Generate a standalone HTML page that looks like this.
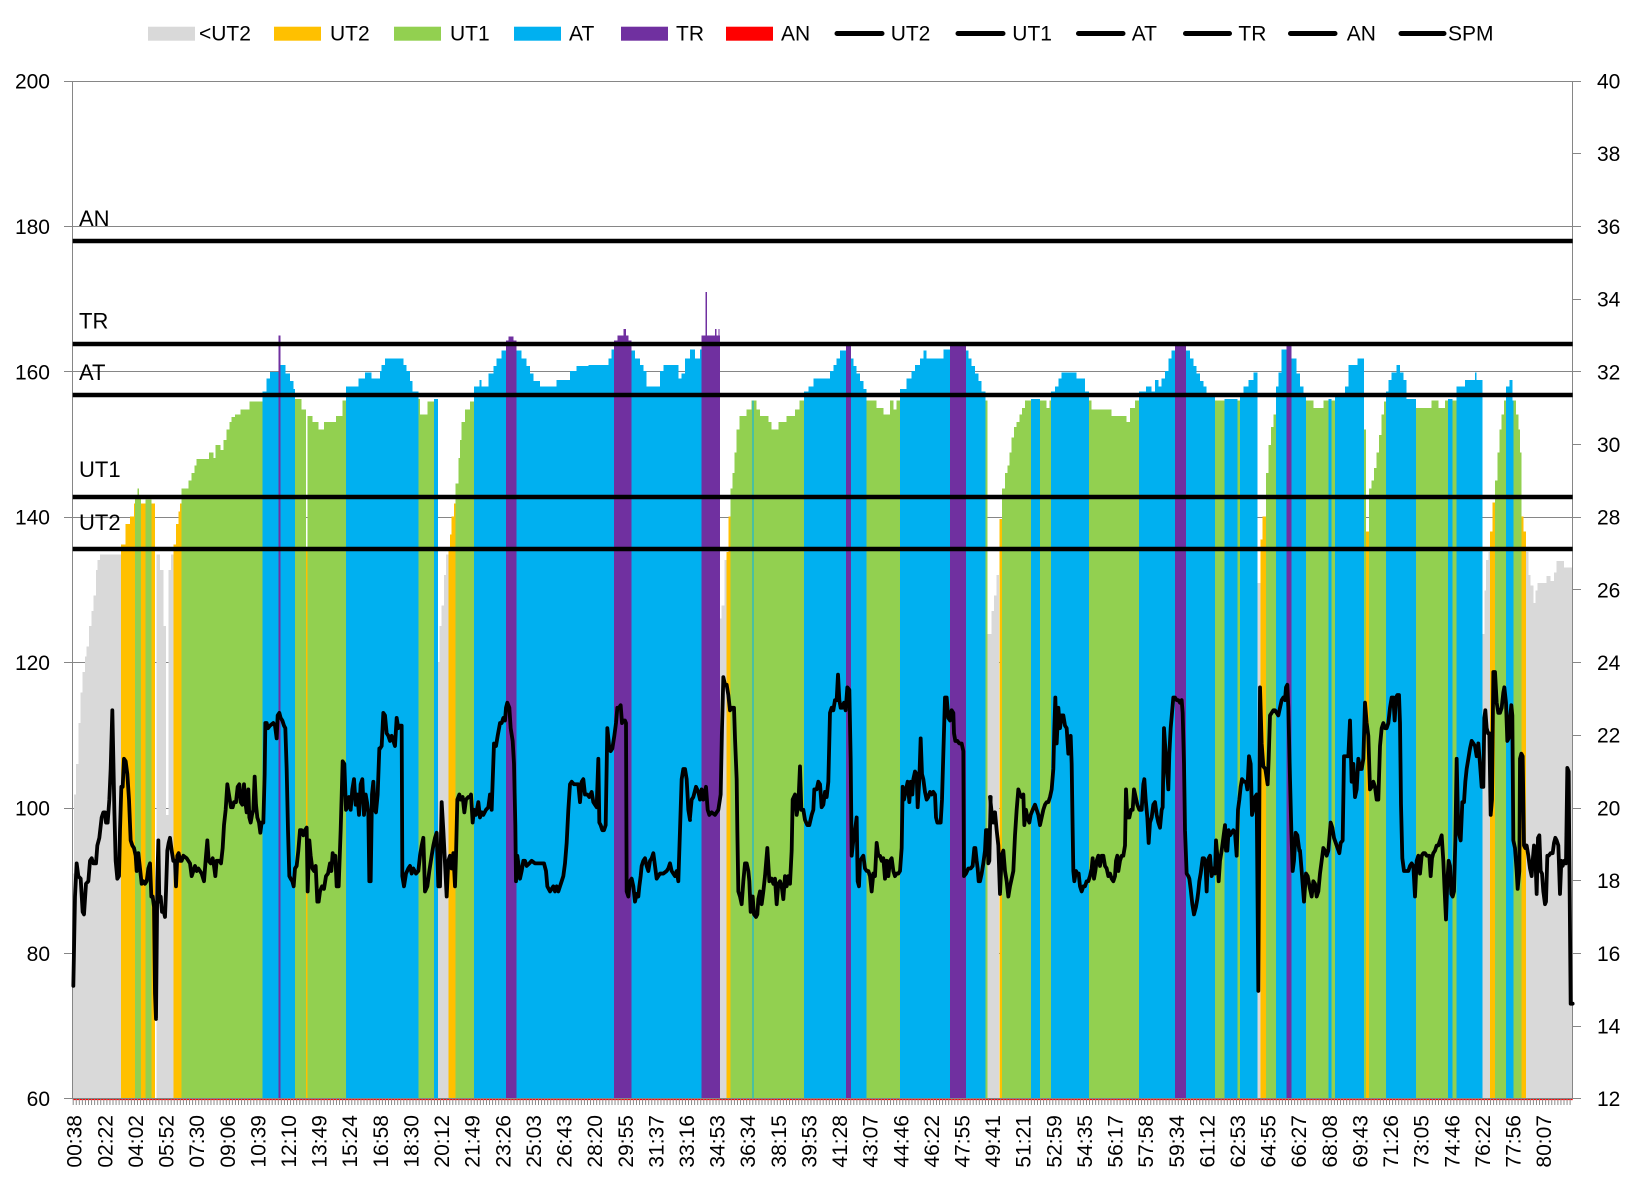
<!DOCTYPE html>
<html><head><meta charset="utf-8"><title>HR zones chart</title>
<style>
html,body{margin:0;padding:0;background:#fff;}
svg{display:block;}
text{font-family:"Liberation Sans",Arial,sans-serif;fill:#000;}
</style></head>
<body>
<svg xmlns="http://www.w3.org/2000/svg" width="1636" height="1180" viewBox="0 0 1636 1180">
<rect x="0" y="0" width="1636" height="1180" fill="#fff"/>
<!-- gridlines -->
<g stroke="#868686" stroke-width="1" fill="none" shape-rendering="crispEdges">
<path d="M72.7 81.5H1572.7M72.7 226.5H1572.7M72.7 371.5H1572.7M72.7 517.5H1572.7M72.7 662.5H1572.7M72.7 808.5H1572.7M72.7 953.5H1572.7"/>
</g>
<!-- bars (zone areas) -->
<g shape-rendering="crispEdges">
<g transform="translate(60 320) scale(0.333333 0.510204)">
<path fill="#D9D9D9" d="M37 1526V1085H42V930H48V870H55V790H62V730H68V690H75V660H80V640H87V600H95V570H100V540H108V490H112V470H120V460H183V1526Z M290 1526V460H300V490H310V600H318V970H325V490H333V460H340V1526Z"/>
<path fill="#FFC000" d="M183 1526V440H197V400H210V385H222V360H225V1526Z M243 1526V360H257V1526Z M275 1526V360H285V1526Z M340 1526V440H348V400H355V375H360V360H365V1526Z M738 1526V450H743V1526Z"/>
<path fill="#92D050" d="M225 1526V345H232V330H237V345H243V1526Z M257 1526V352H275V1526Z M365 1526V330H385V315H395V300H403V285H410V272H447V260H460V270H467V245H482V255H490V235H500V215H508V200H515V190H525V185H542V175H568V160H608V1526Z M705 1526V155H725V175H738V1526Z M743 1526V188H757V200H775V215H792V200H828V188H848V158H858V1526Z"/>
<path fill="#00B0F0" d="M608 1526V140H620V115H630V102H655V100H662V88H676V105H690V120H700V135H705V1526Z M858 1526V130H895V115H915V103H935V115H960V1526Z"/>
<path fill="#7030A0" d="M656 1526V30H662V1526Z"/>
</g>
<g transform="translate(370 320) scale(0.333333 0.510204)">
<path fill="#00B0F0" d="M30 1526V100H35V88H45V75H100V88H110V100H120V120H127V140H145V1526Z M192 1526V155H204V1526Z M312 1526V130H328V118H335V130H355V105H370V90H380V75H395V60H408V1526Z M440 1526V60H455V75H470V90H480V105H490V120H510V130H560V118H600V100H620V90H655V88H715V75H725V58H732V1526Z M785 1526V60H795V75H810V88H820V100H830V130H870V100H880V88H925V115H935V105H945V75H960V1526Z"/>
<path fill="#92D050" d="M145 1526V155H150V185H172V160H192V1526Z M257 1526V320H265V270H270V235H275V200H285V175H300V160H312V1526Z"/>
<path fill="#D9D9D9" d="M204 1526V670H208V600H215V560H222V500H228V460H235V1526Z"/>
<path fill="#FFC000" d="M235 1526V445H240V420H245V385H252V360H257V1526Z"/>
<path fill="#7030A0" d="M408 1526V40H415V32H430V40H440V1526Z M732 1526V40H742V30H760V18H768V30H775V40H785V1526Z"/>
</g>
<g transform="translate(680 320) scale(0.333333 0.510204)">
<path fill="#00B0F0" d="M30 1526V58H45V75H60V58H65V1526Z M372 1526V140H385V130H400V115H450V100H460V88H470V75H480V60H498V1526Z M513 1526V75H520V90H530V105H540V120H550V135H560V1526Z M660 1526V135H680V115H695V100H705V88H720V75H730V60H740V75H790V58H810V1526Z M858 1526V60H865V75H875V90H885V105H895V120H905V140H917V1526Z"/>
<path fill="#7030A0" d="M65 1526V30H77V-55H81V30H105V18H110V30H115V18H118V30H120V1526Z M498 1526V47H513V1526Z M810 1526V47H858V1526Z"/>
<path fill="#D9D9D9" d="M120 1526V585H125V560H133V470H140V1526Z M923 1526V615H935V570H942V540H950V500H957V1526Z"/>
<path fill="#FFC000" d="M140 1526V455H146V385H152V1526Z"/>
<path fill="#92D050" d="M152 1526V330H158V300H163V260H170V215H178V188H200V175H215V158H230V175H240V188H265V200H275V215H295V200H320V188H345V175H358V158H372V1526Z M560 1526V158H590V172H610V185H630V158H640V175H650V158H660V1526Z M917 1526V158H923V1526Z"/>
<path fill="#00B0F0" d="M217 1526V158H221V1526Z"/>
</g>
<g transform="translate(990 320) scale(0.333333 0.510204)">
<path fill="#FFC000" d="M28 1526V390H36V1526Z M812 1526V430H818V385H828V1526Z"/>
<path fill="#92D050" d="M36 1526V330H45V300H52V285H58V260H65V230H72V210H80V200H88V185H96V172H105V158H123V1526Z M150 1526V158H170V172H178V158H183V1526Z M297 1526V158H305V175H365V188H410V200H420V172H435V158H447V1526Z M675 1526V158H703V1526Z M742 1526V158H750V1526Z M828 1526V300H835V245H843V210H850V185H858V1526Z M948 1526V158H960V1526Z"/>
<path fill="#00B0F0" d="M123 1526V155H150V1526Z M183 1526V140H195V130H205V115H215V103H260V115H285V140H297V1526Z M447 1526V140H468V130H485V140H495V118H505V130H515V115H525V100H535V75H545V60H555V1526Z M588 1526V60H600V75H610V90H620V105H630V120H640V130H650V150H675V1526Z M703 1526V155H742V1526Z M750 1526V150H760V130H775V118H790V103H803V1526Z M858 1526V130H865V103H875V58H890V1526Z M905 1526V75H920V105H930V130H940V150H948V1526Z"/>
<path fill="#7030A0" d="M555 1526V47H588V1526Z M890 1526V47H905V1526Z"/>
<path fill="#D9D9D9" d="M803 1526V515H812V1526Z"/>
</g>
<g transform="translate(1300 320) scale(0.333333 0.510204)">
<path fill="#92D050" d="M30 1526V158H40V172H70V158H85V1526Z M95 1526V158H105V1526Z M192 1526V215H198V1526Z M207 1526V330H215V315H222V290H230V260H237V225H245V185H252V160H258V1526Z M348 1526V172H395V158H415V172H435V158H444V1526Z M457 1526V158H470V1526Z M585 1526V315H592V260H598V215H605V185H612V158H618V1526Z M640 1526V158H648V185H655V215H660V260H665V1526Z"/>
<path fill="#00B0F0" d="M85 1526V155H95V1526Z M105 1526V150H135V130H145V88H172V75H192V1526Z M258 1526V140H265V118H275V103H290V88H300V103H310V118H320V155H348V1526Z M444 1526V155H457V1526Z M470 1526V130H495V118H525V103H530V118H548V1526Z M618 1526V130H628V118H637V158H640V1526Z"/>
<path fill="#FFC000" d="M198 1526V415H207V1526Z M570 1526V415H578V358H585V1526Z M665 1526V385H670V415H678V1526Z"/>
<path fill="#D9D9D9" d="M548 1526V615H553V530H558V470H565V455H570V1526Z M678 1526V455H685V500H692V520H700V555H706V530H712V515H740V502H752V512H762V495H770V472H792V485H818V1526Z"/>
</g>
</g>
<!-- red AN baseline & category ticks -->
<path d="M72.7 1099.5H1572.7" stroke="#FF0000" stroke-width="1.2" fill="none"/>
<path d="M72.7 1102H1572.7" stroke="#8A8A8A" stroke-width="6" stroke-dasharray="1 2.0612" fill="none"/>
<!-- axes -->
<g stroke="#868686" stroke-width="1" fill="none" shape-rendering="crispEdges">
<path d="M72.5 81V1099M1572.5 81V1099M64 1098.5H1581"/>
<path d="M64 81.5H72.5M64 226.5H72.5M64 371.5H72.5M64 517.5H72.5M64 662.5H72.5M64 808.5H72.5M64 953.5H72.5M64 1098.5H72.5"/>
<path d="M1572.5 81.5H1581M1572.5 153.5H1581M1572.5 226.5H1581M1572.5 299.5H1581M1572.5 371.5H1581M1572.5 444.5H1581M1572.5 517.5H1581M1572.5 589.5H1581M1572.5 662.5H1581M1572.5 735.5H1581M1572.5 808.5H1581M1572.5 880.5H1581M1572.5 953.5H1581M1572.5 1026.5H1581M1572.5 1098.5H1581"/>
</g>
<!-- threshold lines -->
<g stroke="#000" stroke-width="4.5" fill="none">
<path d="M72.7 241H1572.7M72.7 344H1572.7M72.7 395H1572.7M72.7 497H1572.7M72.7 549H1572.7"/>
</g>
<!-- SPM line -->
<g fill="none" stroke="#000" stroke-width="3.8" stroke-linejoin="round" stroke-linecap="round">
<polyline vector-effect="non-scaling-stroke" transform="translate(60 320) scale(0.333333 0.510204)" points="40,1305 45,1130 50,1065 55,1090 62,1095 68,1160 72,1165 78,1105 85,1100 90,1060 95,1055 100,1065 108,1065 112,1030 118,1015 125,975 130,965 135,965 138,985 143,985 148,940 152,880 157,765 160,860 163,960 167,1060 172,1095 177,1090 180,1000 184,915 188,915 192,860 197,865 202,890 207,940 212,1020 217,1030 222,1035 227,1050 230,1080 235,1045 240,1075 245,1105 250,1100 255,1105 260,1100 265,1075 270,1065 274,1130 278,1130 282,1150 285,1320 288,1370 292,1100 295,1020 298,1140 302,1130 306,1160 310,1155 315,1170 318,1120 322,1040 326,1025 330,1015 335,1040 340,1060 345,1060 348,1110 352,1050 356,1045 360,1060 365,1060 370,1050 380,1055 390,1065 395,1090 400,1080 405,1070 410,1080 415,1075 425,1085 432,1100 438,1050 442,1020 446,1060 452,1065 458,1055 462,1070 466,1090 470,1060 478,1060 483,1065 488,1035 492,990 497,960 502,910 508,935 513,955 518,955 522,945 528,945 533,915 538,910 542,945 547,950 552,910 556,945 560,965 565,920 568,975 572,985 576,970 580,960 584,895 588,950 592,975 597,985 601,1005 605,985 610,985 614,890 616,790 620,790 624,800 630,795 640,790 645,795 650,820 653,775 658,770 662,780 667,785 672,795 676,800 680,880 684,1000 688,1090 692,1095 697,1100 701,1110 705,1075 710,1070 715,1040 720,1000 725,1000 730,1010 735,1000 740,995 743,1120 748,1020 752,1050 757,1075 762,1080 767,1070 772,1140 776,1140 780,1120 786,1110 792,1115 798,1090 804,1085 810,1065 814,1080 818,1045 822,1060 826,1050 830,1110 836,1110 842,1000 848,865 853,870 858,960 862,955 867,935 872,960 877,920 882,900 887,950 892,930 897,970 902,910 907,900 912,970 917,930 921,945 925,965 928,1100 932,1100 936,930 940,905 944,960 948,965 953,930 958,840"/>
<polyline vector-effect="non-scaling-stroke" transform="translate(370 320) scale(0.333333 0.510204)" points="30,840 35,835 40,770 45,775 50,810 55,815 60,825 65,815 70,825 75,835 80,780 85,800 90,795 95,795 97,1090 102,1110 108,1085 115,1075 120,1070 125,1085 130,1075 138,1085 145,1080 150,1050 155,1030 160,1015 165,1120 172,1110 178,1080 185,1050 190,1030 195,1015 200,1005 205,1110 210,1110 215,945 220,1000 225,1065 230,1130 235,1060 240,1050 245,1075 250,1045 255,1110 258,1050 262,940 268,930 272,940 278,935 283,965 288,940 295,935 300,935 303,930 308,985 312,960 318,970 325,945 330,975 335,965 340,970 348,960 355,955 360,930 365,960 372,830 378,835 383,815 390,790 395,790 400,780 405,785 408,760 412,750 418,760 422,800 428,825 432,870 436,990 438,1100 442,1050 446,1070 450,1095 455,1080 460,1060 465,1060 470,1070 478,1065 485,1060 495,1065 505,1065 515,1065 522,1065 528,1080 532,1110 540,1120 545,1115 550,1110 555,1120 560,1110 565,1120 570,1110 575,1100 580,1090 585,1065 590,1025 595,960 600,910 605,905 612,910 618,910 625,910 630,945 635,905 640,900 645,930 652,930 658,935 665,925 670,945 675,950 680,955 685,860 688,985 692,990 697,1000 702,1000 707,990 712,800 718,840 722,845 727,840 733,815 738,790 742,760 747,760 752,755 756,790 760,785 765,785 768,790 770,1120 775,1130 780,1100 785,1095 790,1110 795,1140 800,1125 805,1130 808,1110 812,1090 815,1070 820,1060 825,1055 830,1070 835,1080 840,1060 845,1055 850,1045 855,1070 860,1095 865,1090 870,1085 880,1085 890,1080 895,1075 900,1065 905,1080 910,1085 915,1090 920,1080 925,1100 930,1000 935,900 940,880 945,880 950,900 955,960 960,980"/>
<polyline vector-effect="non-scaling-stroke" transform="translate(680 320) scale(0.333333 0.510204)" points="30,975 35,940 40,935 48,915 55,925 60,940 65,920 70,940 78,915 83,960 88,970 95,965 105,970 115,960 122,930 126,800 130,700 135,715 140,715 145,735 150,765 155,760 162,760 165,820 170,900 172,1000 175,1120 180,1130 185,1145 190,1100 195,1065 200,1065 205,1080 208,1100 212,1160 218,1130 222,1165 228,1170 232,1165 235,1135 240,1120 245,1145 250,1120 255,1090 262,1035 268,1100 275,1095 280,1105 285,1095 290,1145 295,1105 300,1100 305,1110 310,1135 315,1090 320,1110 325,1090 330,1105 335,1040 338,940 345,930 350,970 355,950 360,875 364,960 370,960 375,980 382,990 388,990 395,970 400,960 403,920 410,920 415,905 420,910 425,955 430,950 435,925 440,935 445,905 450,770 455,760 460,765 465,745 470,745 474,695 478,745 482,760 487,760 492,750 497,765 502,720 508,725 512,860 515,1050 520,1020 525,1000 530,975 533,1100 537,1110 540,1060 545,1055 550,1050 555,1075 560,1080 565,1080 570,1090 575,1120 580,1085 585,1090 590,1025 595,1050 600,1050 605,1060 610,1055 615,1095 620,1060 625,1090 630,1060 635,1055 640,1080 645,1090 650,1085 655,1085 660,1080 665,1035 668,915 672,940 678,920 683,905 688,945 692,905 697,930 700,900 705,885 710,890 713,955 718,900 722,820 726,890 730,900 735,925 740,940 745,935 750,925 755,930 760,925 765,930 768,975 772,985 778,985 782,985 786,940 790,850 795,740 800,740 805,780 810,785 815,765 820,770 822,810 826,825 832,825 838,830 845,830 850,845 852,1090 858,1085 865,1075 872,1075 878,1070 883,1035 886,1035 890,1060 893,1075 896,1100 900,1100 905,1085 910,1065 915,1040 918,1000 922,1000 925,1065 928,1060 932,935"/>
<polyline vector-effect="non-scaling-stroke" transform="translate(990 320) scale(0.333333 0.510204)" points="0,935 5,965 10,985 15,965 20,1000 25,1030 30,1125 35,1050 40,1040 45,1080 50,1100 55,1130 60,1110 65,1095 70,1080 75,1010 80,960 85,920 90,930 95,935 100,930 103,990 108,960 112,975 118,985 122,970 128,960 135,950 140,960 145,970 150,990 155,975 160,960 165,950 170,945 175,945 180,935 185,920 190,880 193,800 196,740 200,830 205,760 210,800 215,775 220,775 225,795 230,800 235,850 238,820 242,815 245,870 248,1000 250,1080 253,1100 258,1080 262,1085 266,1085 270,1110 275,1120 280,1110 285,1110 290,1100 295,1100 300,1090 305,1075 308,1055 312,1095 316,1080 320,1060 325,1050 330,1070 335,1050 340,1050 345,1070 350,1075 355,1090 360,1085 365,1095 370,1100 375,1090 378,1060 382,1050 385,1080 390,1060 395,1050 400,1050 405,1030 408,920 412,975 418,975 423,960 428,960 432,920 437,935 442,950 448,960 455,960 460,910 463,900 467,940 472,975 476,1025 480,985 485,975 490,950 495,945 500,970 505,985 510,995 515,960 518,955 522,800 525,830 530,880 533,900 535,920 538,850 542,800 546,770 550,740 555,740 560,745 565,745 570,750 575,745 578,770 582,870 585,1000 590,1085 595,1090 598,1095 602,1115 607,1145 612,1165 618,1150 622,1135 625,1120 628,1100 632,1085 635,1070 638,1055 642,1055 646,1060 650,1120 652,1085 656,1055 660,1050 665,1090 670,1075 675,1085 678,1020 682,1050 686,1100 690,1060 695,1040 700,1015 705,990 708,1040 712,1040 716,1000 720,1010 725,1005 730,1000 735,1005 740,1050 744,960 748,940 752,915 756,900 762,905 768,905 772,920 777,855 782,870 786,970 790,960 795,935 800,930 805,1315 810,720 815,830 820,875 826,880 833,910 836,860 840,775 845,770 850,765 855,765 860,770 865,775 870,760 875,745 880,740 885,745 888,720 892,715 895,760 900,900 904,1000 908,1080 912,1060 917,1005 922,1010 928,1040"/>
<polyline vector-effect="non-scaling-stroke" transform="translate(1300 320) scale(0.333333 0.510204)" points="0,1040 5,1080 12,1140 18,1085 23,1090 30,1115 35,1130 40,1100 45,1105 50,1130 55,1120 60,1085 65,1060 70,1035 75,1040 80,1050 85,1040 92,985 97,995 102,1015 110,1030 118,1045 122,1025 128,1020 132,855 140,855 145,855 150,785 155,905 160,870 165,935 170,920 175,860 180,880 185,880 190,860 195,750 200,790 205,815 210,920 215,915 220,905 225,915 230,940 235,940 240,835 245,800 250,790 255,800 260,800 265,790 270,760 275,740 280,740 284,785 288,740 292,735 297,735 300,790 303,950 307,1055 312,1080 318,1080 325,1080 330,1070 335,1065 340,1070 345,1130 350,1060 355,1050 360,1085 365,1050 370,1045 375,1045 380,1050 388,1050 392,1090 396,1055 400,1045 405,1040 410,1030 415,1030 420,1020 425,1010 430,1060 434,1120 438,1175 442,1100 446,1060 450,1070 454,1125 458,1130 462,1120 466,1020 470,860 474,980 478,1010 482,1020 487,945 492,945 496,905 500,880 505,860 510,840 515,825 520,830 525,835 530,855 535,830 540,870 545,915 550,915 553,780 556,765 560,800 564,810 568,810 572,970 576,940 580,690 585,690 590,750 595,770 600,770 605,760 610,730 613,720 618,750 622,825 626,820 630,780 634,755 637,775 640,1020 645,1035 650,1080 653,1115 658,1080 660,860 664,850 668,855 672,1030 676,1035 680,1030 685,1050 690,1075 695,1090 698,1060 702,1030 706,1050 710,1125 714,1015 718,1010 722,1080 726,1085 730,1120 735,1145 738,1140 742,1050 746,1050 752,1045 758,1045 762,1025 766,1015 770,1020 775,1030 780,1125 784,1060 788,1070 793,1060 798,1065 802,878 806,885 808,1050 812,1340 818,1340"/>
</g>
<!-- threshold labels -->
<g font-size="22">
<text x="79" y="226">AN</text>
<text x="79" y="328.5">TR</text>
<text x="79" y="380">AT</text>
<text x="79" y="477">UT1</text>
<text x="79" y="530">UT2</text>
</g>
<!-- left axis labels -->
<g font-size="21" text-anchor="end">
<text x="50" y="88.5">200</text>
<text x="50" y="233.9">180</text>
<text x="50" y="379.3">160</text>
<text x="50" y="524.7">140</text>
<text x="50" y="670">120</text>
<text x="50" y="815.4">100</text>
<text x="50" y="960.8">80</text>
<text x="50" y="1106.2">60</text>
</g>
<!-- right axis labels -->
<g font-size="21">
<text x="1597" y="88.5">40</text>
<text x="1597" y="161.2">38</text>
<text x="1597" y="233.9">36</text>
<text x="1597" y="306.6">34</text>
<text x="1597" y="379.3">32</text>
<text x="1597" y="452">30</text>
<text x="1597" y="524.7">28</text>
<text x="1597" y="597.3">26</text>
<text x="1597" y="670">24</text>
<text x="1597" y="742.7">22</text>
<text x="1597" y="815.4">20</text>
<text x="1597" y="888.1">18</text>
<text x="1597" y="960.8">16</text>
<text x="1597" y="1033.5">14</text>
<text x="1597" y="1106.2">12</text>
</g>
<!-- x axis labels -->
<g font-size="21" text-anchor="end">
<text transform="translate(81.7 1115) rotate(-90)">00:38</text>
<text transform="translate(112.3 1115) rotate(-90)">02:22</text>
<text transform="translate(142.9 1115) rotate(-90)">04:02</text>
<text transform="translate(173.6 1115) rotate(-90)">05:52</text>
<text transform="translate(204.2 1115) rotate(-90)">07:30</text>
<text transform="translate(234.8 1115) rotate(-90)">09:06</text>
<text transform="translate(265.4 1115) rotate(-90)">10:39</text>
<text transform="translate(296.0 1115) rotate(-90)">12:10</text>
<text transform="translate(326.6 1115) rotate(-90)">13:49</text>
<text transform="translate(357.2 1115) rotate(-90)">15:24</text>
<text transform="translate(387.9 1115) rotate(-90)">16:58</text>
<text transform="translate(418.5 1115) rotate(-90)">18:30</text>
<text transform="translate(449.1 1115) rotate(-90)">20:12</text>
<text transform="translate(479.7 1115) rotate(-90)">21:49</text>
<text transform="translate(510.3 1115) rotate(-90)">23:26</text>
<text transform="translate(540.9 1115) rotate(-90)">25:03</text>
<text transform="translate(571.5 1115) rotate(-90)">26:43</text>
<text transform="translate(602.1 1115) rotate(-90)">28:20</text>
<text transform="translate(632.8 1115) rotate(-90)">29:55</text>
<text transform="translate(663.4 1115) rotate(-90)">31:37</text>
<text transform="translate(694.0 1115) rotate(-90)">33:16</text>
<text transform="translate(724.6 1115) rotate(-90)">34:53</text>
<text transform="translate(755.2 1115) rotate(-90)">36:34</text>
<text transform="translate(785.8 1115) rotate(-90)">38:15</text>
<text transform="translate(816.4 1115) rotate(-90)">39:53</text>
<text transform="translate(847.0 1115) rotate(-90)">41:28</text>
<text transform="translate(877.6 1115) rotate(-90)">43:07</text>
<text transform="translate(908.3 1115) rotate(-90)">44:46</text>
<text transform="translate(938.9 1115) rotate(-90)">46:22</text>
<text transform="translate(969.5 1115) rotate(-90)">47:55</text>
<text transform="translate(1000.1 1115) rotate(-90)">49:41</text>
<text transform="translate(1030.7 1115) rotate(-90)">51:21</text>
<text transform="translate(1061.3 1115) rotate(-90)">52:59</text>
<text transform="translate(1091.9 1115) rotate(-90)">54:35</text>
<text transform="translate(1122.5 1115) rotate(-90)">56:17</text>
<text transform="translate(1153.2 1115) rotate(-90)">57:58</text>
<text transform="translate(1183.8 1115) rotate(-90)">59:34</text>
<text transform="translate(1214.4 1115) rotate(-90)">61:12</text>
<text transform="translate(1245.0 1115) rotate(-90)">62:53</text>
<text transform="translate(1275.6 1115) rotate(-90)">64:55</text>
<text transform="translate(1306.2 1115) rotate(-90)">66:27</text>
<text transform="translate(1336.8 1115) rotate(-90)">68:08</text>
<text transform="translate(1367.4 1115) rotate(-90)">69:43</text>
<text transform="translate(1398.0 1115) rotate(-90)">71:26</text>
<text transform="translate(1428.7 1115) rotate(-90)">73:05</text>
<text transform="translate(1459.3 1115) rotate(-90)">74:46</text>
<text transform="translate(1489.9 1115) rotate(-90)">76:22</text>
<text transform="translate(1520.5 1115) rotate(-90)">77:56</text>
<text transform="translate(1551.1 1115) rotate(-90)">80:07</text>
</g>
<!-- legend -->
<g>
<rect x="148" y="26.7" width="47" height="14" fill="#D9D9D9"/>
<rect x="274" y="26.7" width="47" height="14" fill="#FFC000"/>
<rect x="394" y="26.7" width="47" height="14" fill="#92D050"/>
<rect x="514" y="26.7" width="47" height="14" fill="#00B0F0"/>
<rect x="621" y="26.7" width="47" height="14" fill="#7030A0"/>
<rect x="726" y="26.7" width="47" height="14" fill="#FF0000"/>
<g stroke="#000" stroke-width="5" stroke-linecap="round">
<path d="M837 33.5H882M958 33.5H1003M1078.5 33.5H1123M1185.5 33.5H1229.5M1290.5 33.5H1335M1401 33.5H1444"/>
</g>
<g font-size="21">
<text x="199" y="40.5">&lt;UT2</text>
<text x="330" y="40.5">UT2</text>
<text x="450" y="40.5">UT1</text>
<text x="569" y="40.5">AT</text>
<text x="676" y="40.5">TR</text>
<text x="781" y="40.5">AN</text>
<text x="890.7" y="40.5">UT2</text>
<text x="1012.3" y="40.5">UT1</text>
<text x="1131.7" y="40.5">AT</text>
<text x="1238.4" y="40.5">TR</text>
<text x="1346.7" y="40.5">AN</text>
<text x="1448" y="40.5">SPM</text>
</g>
</g>
</svg>
</body></html>
